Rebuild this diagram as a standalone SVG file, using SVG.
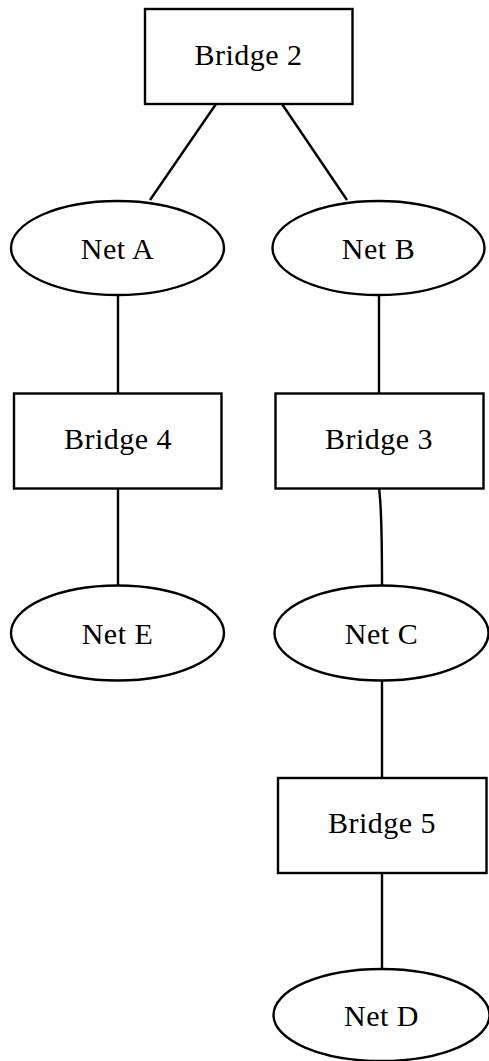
<svg xmlns="http://www.w3.org/2000/svg" width="489" height="1061" viewBox="0 0 489 1061">
<style>
.n{fill:#fff;stroke:#000;stroke-width:2.4}
.e{fill:none;stroke:#000;stroke-width:2.4}
text{font-family:"Liberation Serif","DejaVu Serif",serif;font-size:30px;letter-spacing:0.5px;text-anchor:middle;fill:#000}
</style>
<rect width="489" height="1061" fill="#fff"/>
<g id="edges">
<line class="e" x1="216" y1="104" x2="150" y2="200"/>
<line class="e" x1="282" y1="104" x2="347" y2="200"/>
<line class="e" x1="118" y1="295" x2="118" y2="393"/>
<line class="e" x1="379" y1="295" x2="379" y2="393"/>
<line class="e" x1="118" y1="488" x2="118" y2="585"/>
<path class="e" d="M379,488 Q382,510 382,585"/>
<line class="e" x1="382" y1="681" x2="382" y2="778"/>
<line class="e" x1="382" y1="873" x2="382" y2="969"/>
</g>
<g id="bridge2"><rect class="n" x="145" y="9" width="207.5" height="95"/><text x="248.5" y="65">Bridge 2</text></g>
<g id="netA"><ellipse class="n" cx="117.5" cy="248" rx="106.5" ry="47"/><text x="117.5" y="258.5">Net A</text></g>
<g id="netB"><ellipse class="n" cx="378.5" cy="248" rx="106" ry="47"/><text x="378.5" y="258.5">Net B</text></g>
<g id="bridge4"><rect class="n" x="14" y="393.5" width="207.5" height="95"/><text x="118" y="448.5">Bridge 4</text></g>
<g id="bridge3"><rect class="n" x="275.5" y="393.5" width="208" height="95"/><text x="379" y="448.5">Bridge 3</text></g>
<g id="netE"><ellipse class="n" cx="117.5" cy="633" rx="106.5" ry="47.5"/><text x="117.5" y="643.5">Net E</text></g>
<g id="netC"><ellipse class="n" cx="381.5" cy="633" rx="107" ry="47.5"/><text x="381.5" y="643.5">Net C</text></g>
<g id="bridge5"><rect class="n" x="278" y="778" width="208.5" height="95"/><text x="382" y="833">Bridge 5</text></g>
<g id="netD"><ellipse class="n" cx="381.5" cy="1015" rx="108" ry="46"/><text x="381.5" y="1025.5">Net D</text></g>
</svg>
